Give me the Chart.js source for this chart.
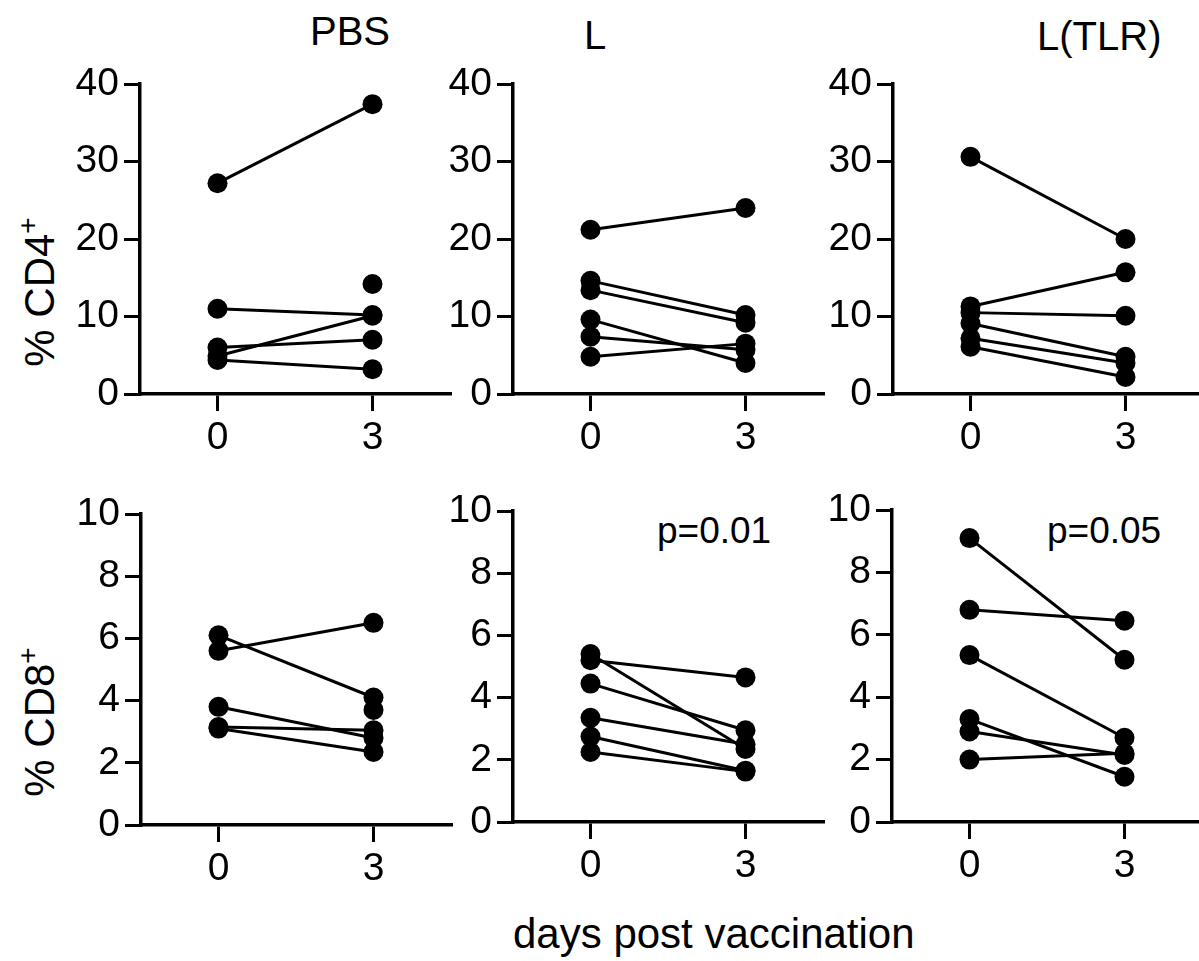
<!DOCTYPE html>
<html>
<head>
<meta charset="utf-8">
<script src="https://cdn.jsdelivr.net/npm/chart.js@4.4.1/dist/chart.umd.min.js"></script>
<style>
    body { margin: 0; background: #fff; overflow: hidden; }
    #wrap { position: relative; width: 1199px; height: 961px; overflow: hidden; font-family: "Liberation Sans", Arial, sans-serif; color: #000; }
    canvas { position: absolute; }
    .lbl { position: absolute; line-height: 1; white-space: nowrap; }
    .ytitle { position: absolute; line-height: 1; white-space: nowrap; font-size: 42px; transform: translate(-50%, -50%) rotate(-90deg); }
    .ytitle sup { font-size: 28px; vertical-align: 17px; line-height: 0; }
</style>
</head>
<body>
<div id="wrap">
    <div class="lbl" style="left:310px; top:11px; font-size:40px;">PBS</div>
    <div class="lbl" style="left:584px; top:15px; font-size:40px;">L</div>
    <div class="lbl" style="left:1037px; top:16px; font-size:40px;">L(TLR)</div>
    <div class="ytitle" style="left:40px; top:292px;">% CD4<sup>+</sup></div>
    <div class="ytitle" style="left:40px; top:722px;">% CD8<sup>+</sup></div>
    <div class="lbl" style="left:657px; top:512px; font-size:37px;">p=0.01</div>
    <div class="lbl" style="left:1047px; top:512px; font-size:37px;">p=0.05</div>
    <div class="lbl" style="left:513px; top:913px; font-size:42px;">days post vaccination</div>
    <canvas id="c1"></canvas>
    <canvas id="c2"></canvas>
    <canvas id="c3"></canvas>
    <canvas id="c4"></canvas>
    <canvas id="c5"></canvas>
    <canvas id="c6"></canvas>
</div>
<script>
// giorni sull'asse x
const dayLabels = ["0", "3"];
const cd4Ticks = [0, 10, 20, 30, 40];
const cd8Ticks = [0, 2, 4, 6, 8, 10];

// % CD4+ (ogni indice = un topo, null = valore mancante)
const pbsCd4Day0 = [27.2, 11.0, 6.0, 4.9, 4.4, null];
const pbsCd4Day3 = [37.4, 10.2, 7.0, 10.1, 3.2, 14.2];
const lCd4Day0 = [21.2, 14.6, 13.4, 9.6, 7.4, 4.8];
const lCd4Day3 = [24.0, 10.2, 9.2, 4.0, 5.7, 6.5];
const tlrCd4Day0 = [30.6, 11.3, 10.5, 9.1, 7.2, 6.1];
const tlrCd4Day3 = [20.0, 15.7, 10.1, 4.8, 4.0, 2.2];

// % CD8+
const pbsCd8Day0 = [6.1, 5.6, 3.8, 3.15, 3.1, null];
const pbsCd8Day3 = [4.1, 6.5, 2.8, 3.05, 2.35, 3.7];
const lCd8Day0 = [5.4, 5.2, 4.45, 3.35, 2.75, 2.25];
const lCd8Day3 = [2.35, 4.65, 2.95, 2.5, 1.65, 1.62];
const tlrCd8Day0 = [9.1, 6.8, 5.35, 3.3, 2.9, 2.0];
const tlrCd8Day3 = [5.2, 6.45, 2.7, 1.45, 2.15, 2.2];

const fontFamily = '"Liberation Sans", Arial, sans-serif';
const padTop = 30;
const yAxisWidth = 100;
const xAxisHeight = 70;
const plotWidth = 310;
const extraRight = 10; // chart.js si tiene un po' di margine a destra

function makePanel(id, axisX, top, bottom, day0, day3, ticks) {
    const canvas = document.getElementById(id);
    const w = yAxisWidth + plotWidth + extraRight;
    const h = padTop + (bottom - top) + xAxisHeight;
    canvas.width = w;
    canvas.height = h;
    canvas.style.width = w + "px";
    canvas.style.height = h + "px";
    canvas.style.left = axisX - yAxisWidth + "px";
    canvas.style.top = top - padTop + "px";

    const datasets = day0.map((v, i) => ({
        data: [v, day3[i]],
        borderColor: "#000",
        backgroundColor: "#000",
        borderWidth: 3,
        pointRadius: 10,
        pointBorderWidth: 0,
        pointBackgroundColor: "#000",
        clip: false,
    }));

    return new Chart(canvas.getContext("2d"), {
        type: "line",
        data: { labels: dayLabels, datasets: datasets },
        options: {
            responsive: false,
            animation: false,
            layout: { padding: { top: padTop, left: 0, right: 0, bottom: 0 } },
            plugins: { legend: { display: false }, tooltip: { enabled: false } },
            scales: {
                x: {
                    type: "category",
                    offset: true,
                    border: { color: "#000", width: 3.5 },
                    grid: { drawOnChartArea: false, drawTicks: true, tickLength: 17, lineWidth: 3, color: "#000" },
                    ticks: { color: "#000", padding: 4, font: { family: fontFamily, size: 39 } },
                    afterFit: (s) => { s.height = xAxisHeight; },
                },
                y: {
                    min: ticks[0],
                    max: ticks[ticks.length - 1],
                    border: { color: "#000", width: 3.5 },
                    grid: { drawOnChartArea: false, drawTicks: true, tickLength: 16, lineWidth: 3, color: "#000" },
                    ticks: { color: "#000", padding: 5, font: { family: fontFamily, size: 39 } },
                    afterBuildTicks: (s) => { s.ticks = ticks.map((v) => ({ value: v })); },
                    afterFit: (s) => { s.width = yAxisWidth; },
                },
            },
        },
    });
}

makePanel("c1", 140, 84, 394, pbsCd4Day0, pbsCd4Day3, cd4Ticks);
makePanel("c2", 513, 84, 394, lCd4Day0, lCd4Day3, cd4Ticks);
makePanel("c3", 893, 84, 394, tlrCd4Day0, tlrCd4Day3, cd4Ticks);
makePanel("c4", 141, 514, 825, pbsCd8Day0, pbsCd8Day3, cd8Ticks);
makePanel("c5", 513, 511, 822, lCd8Day0, lCd8Day3, cd8Ticks);
makePanel("c6", 892, 510, 822, tlrCd8Day0, tlrCd8Day3, cd8Ticks);
</script>
</body>
</html>
